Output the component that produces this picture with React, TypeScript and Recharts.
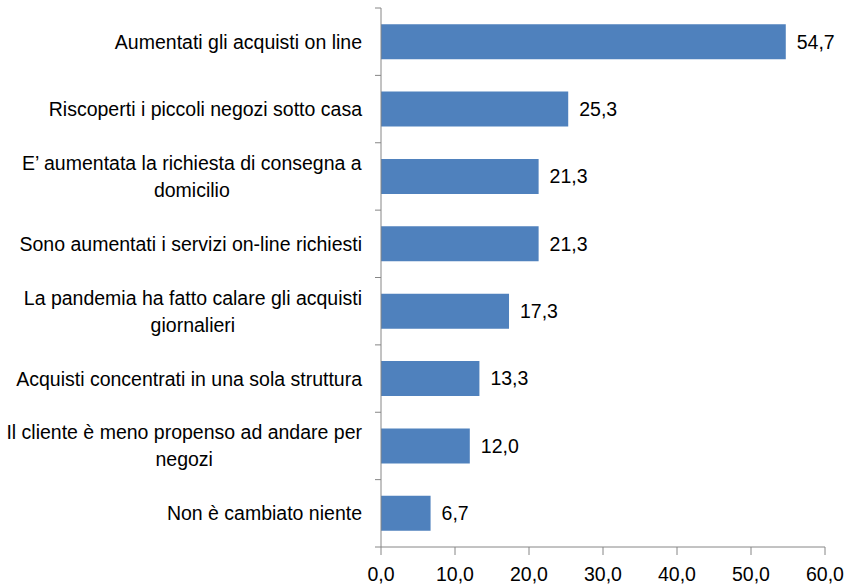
import { BarChart, Bar, XAxis, YAxis, LabelList } from "recharts";

const categories = [
  "Aumentati gli acquisti on line",
  "Riscoperti i piccoli negozi sotto casa",
  "E’ aumentata la richiesta di consegna a domicilio",
  "Sono aumentati i servizi on-line richiesti",
  "La pandemia ha fatto calare gli acquisti giornalieri",
  "Acquisti concentrati in una sola struttura",
  "Il cliente è meno propenso ad andare per negozi",
  "Non è cambiato niente",
];
const values = [54.7, 25.3, 21.3, 21.3, 17.3, 13.3, 12.0, 6.7];
const xTicks = [0, 10, 20, 30, 40, 50, 60];

const data = categories.map((name, i) => ({ name, value: values[i] }));

const FONT = "'Liberation Sans', Arial, sans-serif";
const FONT_SIZE = 19.5;
const W = 844;
const H = 587;
const MARGIN = { top: 8, right: 19, bottom: 0, left: 0 };
const X_AXIS_H = 40;
const AXIS_W = 381;
const BAND = (H - MARGIN.top - X_AXIS_H) / categories.length;
const LABEL_MAX = 362;

const fmt = (v: number) => v.toFixed(1).replace(".", ",");

let ctx: CanvasRenderingContext2D | null = null;
function measure(s: string) {
  if (!ctx) ctx = document.createElement("canvas").getContext("2d");
  if (!ctx) return s.length * FONT_SIZE * 0.5;
  ctx.font = `${FONT_SIZE}px ${FONT}`;
  return ctx.measureText(s).width;
}

// wrap long category names, lines centred on each other like Excel does
function wrap(s: string) {
  const words = s.split(" ");
  const lines: string[] = [];
  let cur = "";
  for (const w of words) {
    const next = cur ? cur + " " + w : w;
    if (cur && measure(next) > LABEL_MAX) {
      lines.push(cur);
      cur = w;
    } else cur = next;
  }
  if (cur) lines.push(cur);
  return lines;
}

function CategoryTick(props: any) {
  const { x, y, payload, index } = props;
  const lines = wrap(String(payload.value));
  const maxW = Math.max(...lines.map(measure));
  const cx = x - maxW / 2;
  const lh = 27;
  const y0 = y - ((lines.length - 1) * lh) / 2;
  const axisX = AXIS_W;
  return (
    <g>
      <line x1={axisX - 6} x2={axisX} y1={y - BAND / 2} y2={y - BAND / 2} stroke="#868686" />
      {index === categories.length - 1 && (
        <line x1={axisX - 6} x2={axisX} y1={y + BAND / 2} y2={y + BAND / 2} stroke="#868686" />
      )}
      <text
        x={cx}
        y={y0}
        textAnchor="middle"
        dominantBaseline="central"
        fontFamily={FONT}
        fontSize={FONT_SIZE}
        fill="#000"
      >
        {lines.map((l, i) => (
          <tspan key={i} x={cx} y={y0 + i * lh}>
            {l}
          </tspan>
        ))}
      </text>
    </g>
  );
}

export default function App() {
  return (
    <div style={{ position: "absolute", left: 0, top: 0, width: W, height: H, background: "#fff" }}>
      <BarChart
        width={W}
        height={H}
        data={data}
        layout="vertical"
        margin={MARGIN}
        barCategoryGap="24%"
      >
        <XAxis
          type="number"
          domain={[0, 60]}
          ticks={xTicks}
          tickFormatter={fmt}
          stroke="#868686"
          height={X_AXIS_H}
          tickSize={8}
          tickMargin={12}
          tick={{ fill: "#000", fontFamily: FONT, fontSize: FONT_SIZE }}
          interval={0}
        />
        <YAxis
          type="category"
          dataKey="name"
          width={AXIS_W}
          stroke="#868686"
          tickLine={false}
          tickSize={6}
          tickMargin={13}
          interval={0}
          tick={<CategoryTick />}
        />
        <Bar dataKey="value" fill="#4F81BD" isAnimationActive={false}>
          <LabelList
            dataKey="value"
            position="right"
            offset={11}
            formatter={(v: any) => fmt(Number(v))}
            style={{ fill: "#000", fontFamily: FONT, fontSize: FONT_SIZE }}
          />
        </Bar>
      </BarChart>
    </div>
  );
}
